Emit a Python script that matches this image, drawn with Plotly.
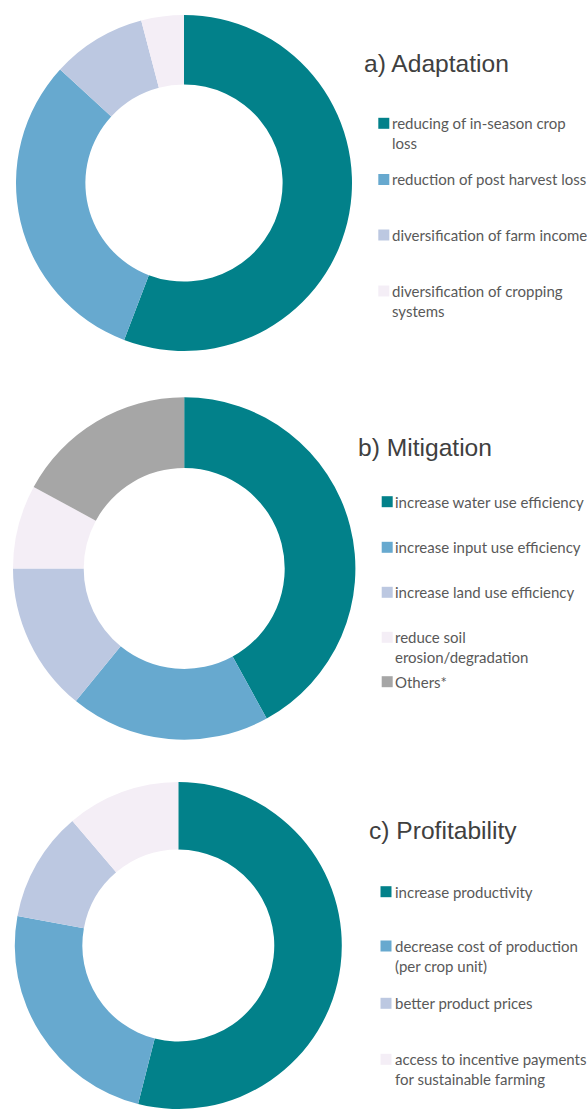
import plotly.graph_objects as go

# ---------------- data ----------------
adapt_labels = ["reducing of in-season crop<br>loss", "reduction of post harvest loss",
                "diversification of farm income", "diversification of cropping<br>systems"]
adapt_values = [55.8, 31.0, 9.1, 4.1]

mitig_labels = ["increase water use efficiency", "increase input use efficiency",
                "increase land use efficiency", "reduce soil<br>erosion/degradation", "Others*"]
mitig_values = [42.0, 18.9, 14.1, 7.9, 17.1]

profit_labels = ["increase productivity", "decrease cost of production<br>(per crop unit)",
                 "better product prices", "access to incentive payments<br>for sustainable farming"]
profit_values = [53.9, 23.9, 10.9, 11.2]

titles = ["a) Adaptation", "b) Mitigation", "c) Profitability"]

# ---------------- styles / layout ----------------
W, H = 587, 1109
colors4 = ["#02818a", "#67a9cf", "#bcc8e1", "#f4eef6"]
colors5 = ["#02818a", "#67a9cf", "#bcc8e1", "#f4eef6", "#a6a6a6"]
HOLE = 0.587
TEXT_COLOR = "#595959"
TITLE_COLOR = "#404040"
LEG_FONT = 15
LINE_H = 1.3 * LEG_FONT


def px_x(x):
    return x / W


def px_y(y):
    return 1 - y / H


# per chart: donut box (px), title pos, square x, text x, first-line centres of legend items
blocks = [
    dict(labels=adapt_labels, values=adapt_values, colors=colors4,
         box=(16, 352, 15, 351), title=(362, 63.5),
         sq_x=378.3, tx=392.3, item_y=[123.3, 179.5, 235, 291]),
    dict(labels=mitig_labels, values=mitig_values, colors=colors5,
         box=(13, 355.4, 397.3, 739.7), title=(355.5, 447.5),
         sq_x=381.7, tx=394.5, item_y=[501.7, 547.3, 592.3, 637.3, 681.7]),
    dict(labels=profit_labels, values=profit_values, colors=colors4,
         box=(14.8, 341.8, 782, 1109), title=(366.5, 830.5),
         sq_x=380.5, tx=394.5, item_y=[891.7, 946, 1003.3, 1059.3]),
]

fig = go.Figure()
shapes = []
annotations = []
SQ = 11

for blk, title in zip(blocks, titles):
    x0, x1, y0, y1 = blk["box"]
    fig.add_trace(go.Pie(
        labels=[l.replace("<br>", " ") for l in blk["labels"]],
        values=blk["values"],
        hole=HOLE,
        sort=False,
        direction="clockwise",
        rotation=0,
        textinfo="none",
        hoverinfo="label+percent",
        marker=dict(colors=blk["colors"], line=dict(width=0)),
        showlegend=False,
        domain=dict(x=[px_x(x0), px_x(x1)], y=[px_y(y1), px_y(y0)]),
    ))
    tx, ty = blk["title"]
    annotations.append(dict(
        text=title, x=px_x(tx), y=px_y(ty), xref="paper", yref="paper",
        xanchor="left", yanchor="middle", showarrow=False,
        font=dict(family="Liberation Sans, Arial", size=24.6, color=TITLE_COLOR),
    ))
    for lab, col, cy in zip(blk["labels"], blk["colors"], blk["item_y"]):
        shapes.append(dict(
            type="rect", xref="paper", yref="paper",
            x0=px_x(blk["sq_x"]), x1=px_x(blk["sq_x"] + SQ),
            y0=px_y(cy + SQ / 2), y1=px_y(cy - SQ / 2),
            fillcolor=col, line=dict(width=0),
        ))
        n = lab.count("<br>") + 1
        annotations.append(dict(
            text=lab, x=px_x(blk["tx"] - 2), y=px_y(cy + (n - 1) * LINE_H / 2),
            xref="paper", yref="paper", xanchor="left", yanchor="middle",
            align="left", showarrow=False,
            font=dict(family="Lato", size=LEG_FONT, color=TEXT_COLOR),
        ))

fig.update_layout(
    width=W, height=H,
    margin=dict(l=0, r=0, t=0, b=0),
    paper_bgcolor="white", plot_bgcolor="white",
    shapes=shapes, annotations=annotations,
)

fig.write_html("out.html",
               config={"displayModeBar": False},
               post_script="document.body.style.margin='0';document.body.style.overflow='hidden';")
